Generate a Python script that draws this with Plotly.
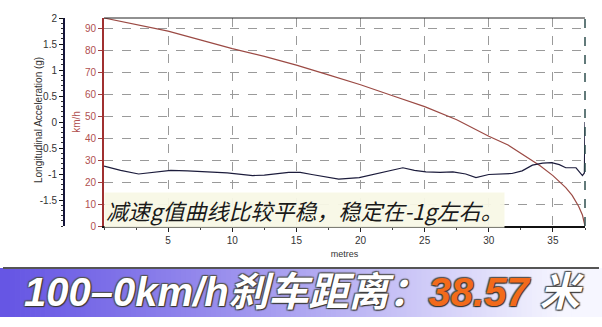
import plotly.graph_objects as go

# ---------------- data ----------------
speed_dist = [0, 2.5, 5, 7.5, 10, 12.5, 15, 17.5, 20, 22.5, 25, 27.5, 30, 31.5, 33, 34,
              35, 36, 36.5, 37, 37.3, 37.5]
speed_kmh = [95, 92, 89, 85, 81, 77.5, 73.5, 69, 64.5, 59.5, 54.5, 48.5, 41, 37, 31.5, 27.5,
             23, 17.5, 14, 9, 5, 0]

acc_dist = [0, 1.3, 2.7, 4, 5.2, 6.5, 8, 9.6, 11.6, 12.5, 14.4, 15.3, 16.2, 17.3, 18.3, 19.9,
            21, 22.2, 23.3, 24.2, 25.1, 26.2, 27.2, 28.2, 29.0, 30.0, 31.0, 31.8, 32.6, 33.4,
            34.2, 34.9, 35.5, 36.0, 36.8, 37.3, 37.45, 37.5]
acc_g = [-0.85, -0.93, -1.0, -0.96, -0.93, -0.94, -0.96, -0.98, -1.03, -1.02, -0.97, -0.97,
         -1.01, -1.05, -1.10, -1.07, -1.01, -0.95, -0.88, -0.93, -0.96, -0.97, -0.96, -1.0,
         -1.07, -1.01, -1.0, -0.99, -0.94, -0.83, -0.79, -0.78, -0.82, -0.88, -0.88, -1.03,
         -0.98, 0.0]

x_ticks = [5, 10, 15, 20, 25, 30, 35]
speed_ticks = [0, 10, 20, 30, 40, 50, 60, 70, 80, 90]
acc_ticks = [2, 1.5, 1, 0.5, 0, -0.5, -1, -1.5]
acc_tick_labels = ["2", "1.5", "1", "0.5", "0", "-0.5", "-1", "-1.5"]

acc_title = "Longitudinal Acceleration (g)"
caption = "减速g值曲线比较平稳，稳定在-1g左右。"
banner_left = "100–0km/h刹车距离："
banner_value = "38.57"
banner_unit = "米"

# ---------------- figure ----------------
W, H = 602, 327
L_PX, R_PX = 104, 585
PT, PB = 18, 226
x0d, x1d = L_PX / W, R_PX / W


def py(p):
    # pixel row -> paper y
    return (PB - p) / (PB - PT)


def px(p):
    return p / W


fig = go.Figure()

fig.add_trace(go.Scatter(x=speed_dist, y=speed_kmh, mode="lines",
                         line=dict(color="#9b4a44", width=1.2),
                         yaxis="y", showlegend=False, hoverinfo="skip"))
fig.add_trace(go.Scatter(x=acc_dist, y=acc_g, mode="lines",
                         line=dict(color="#1c1c3c", width=1.2),
                         yaxis="y2", showlegend=False, hoverinfo="skip"))

tick_font = dict(family="Liberation Sans, Arial, sans-serif", size=10)

fig.update_layout(
    width=W, height=H,
    margin=dict(l=0, r=0, t=PT, b=H - PB),
    paper_bgcolor="white", plot_bgcolor="white",
    xaxis=dict(domain=[x0d, x1d], range=[0, 37.5], tickvals=x_ticks,
               ticks="outside", ticklen=4, tickcolor="#222",
               tickfont=dict(color="#333", **tick_font),
               showline=True, linecolor="#111", linewidth=2,
               showgrid=True, gridcolor="#9a9a9a", griddash="dash", gridwidth=1,
               zeroline=False,
               minor=dict(dtick=2.5, tick0=0, ticks="outside", ticklen=2, tickcolor="#444", showgrid=False),
               title=dict(text="metres", font=dict(color="#333", family="Liberation Sans, Arial", size=9),
                          standoff=6)),
    yaxis=dict(range=[0, 95], tickvals=speed_ticks,
               ticks="outside", ticklen=4, tickcolor="#a04040",
               tickfont=dict(color="#b05050", **tick_font),
               showline=True, linecolor="#a03030", linewidth=2,
               showgrid=True, gridcolor="#9a9a9a", griddash="dash", gridwidth=1,
               zeroline=False,
               title=dict(text="km/h", font=dict(color="#b05050", family="Liberation Sans, Arial", size=10),
                          standoff=2)),
    yaxis2=dict(range=[-2, 2], overlaying="y", anchor="free", position=64 / W, side="left",
                tickvals=acc_ticks, ticktext=acc_tick_labels,
                ticks="outside", ticklen=4, tickcolor="#111",
                tickfont=dict(color="#333", **tick_font),
                showline=True, linecolor="#15153a", linewidth=2,
                showgrid=False, zeroline=False,
                minor=dict(dtick=0.1, tick0=0, ticks="outside", ticklen=2, tickcolor="#333")),
)

# acceleration axis title (overlapping the tick labels as in the original)
fig.add_annotation(x=px(38), y=py(120), xref="paper", yref="paper", showarrow=False,
                   textangle=-90, text=acc_title, xanchor="center", yanchor="middle",
                   font=dict(color="#333", family="Liberation Sans, Arial", size=10))

# top border and right dashed border
fig.add_shape(type="line", xref="paper", yref="paper", x0=x0d, x1=x1d, y0=1, y1=1,
              line=dict(color="#222", width=1))
fig.add_shape(type="line", xref="paper", yref="paper", x0=x1d, x1=x1d, y0=0, y1=1,
              line=dict(color="#2f4f4f", width=1.5, dash="dash"))

# caption on the chart
fig.add_annotation(x=px(304), y=py(210), xref="paper", yref="paper", showarrow=False,
                   yanchor="middle", xanchor="center",
                   text=f"<i>{caption}</i>",
                   font=dict(family="Noto Sans CJK SC", size=22, color="#1a1a1a"),
                   bgcolor="rgba(248,248,230,0.95)", borderpad=1)

# banner gradient (built from thin rectangles)
ban_top, ban_bot = 268, 317
n = 120
c0 = (102, 86, 228)
c1 = (246, 246, 255)
for i in range(n):
    xa = i / n * W
    xb = (i + 1) / n * W + 0.8
    t = min(1.0, (xa / 560)) ** 1.1
    col = tuple(int(c0[k] + (c1[k] - c0[k]) * t) for k in range(3))
    fig.add_shape(type="rect", xref="paper", yref="paper",
                  x0=xa / W, x1=min(xb, W) / W, y0=py(ban_bot), y1=py(ban_top),
                  line=dict(width=0), fillcolor=f"rgb{col}", layer="above")
fig.add_shape(type="line", xref="paper", yref="paper", x0=0.005, x1=0.995,
              y0=py(ban_top), y1=py(ban_top), line=dict(color="#555", width=2))

fig.add_annotation(x=px(304), y=py(292), xref="paper", yref="paper", showarrow=False,
                   xanchor="center", yanchor="middle",
                   text=(f"<b><i>{banner_left}<span style='color:#f26a1b'>{banner_value}</span> "
                         f"{banner_unit}</i></b>"),
                   font=dict(family="Liberation Sans, Noto Sans CJK SC, sans-serif", size=40,
                             color="white",
                             shadow="1px 1px 1px #333, -1px -1px 1px #555, 1px -1px 1px #555, -1px 1px 1px #555"))

fig.write_html("out.html")
